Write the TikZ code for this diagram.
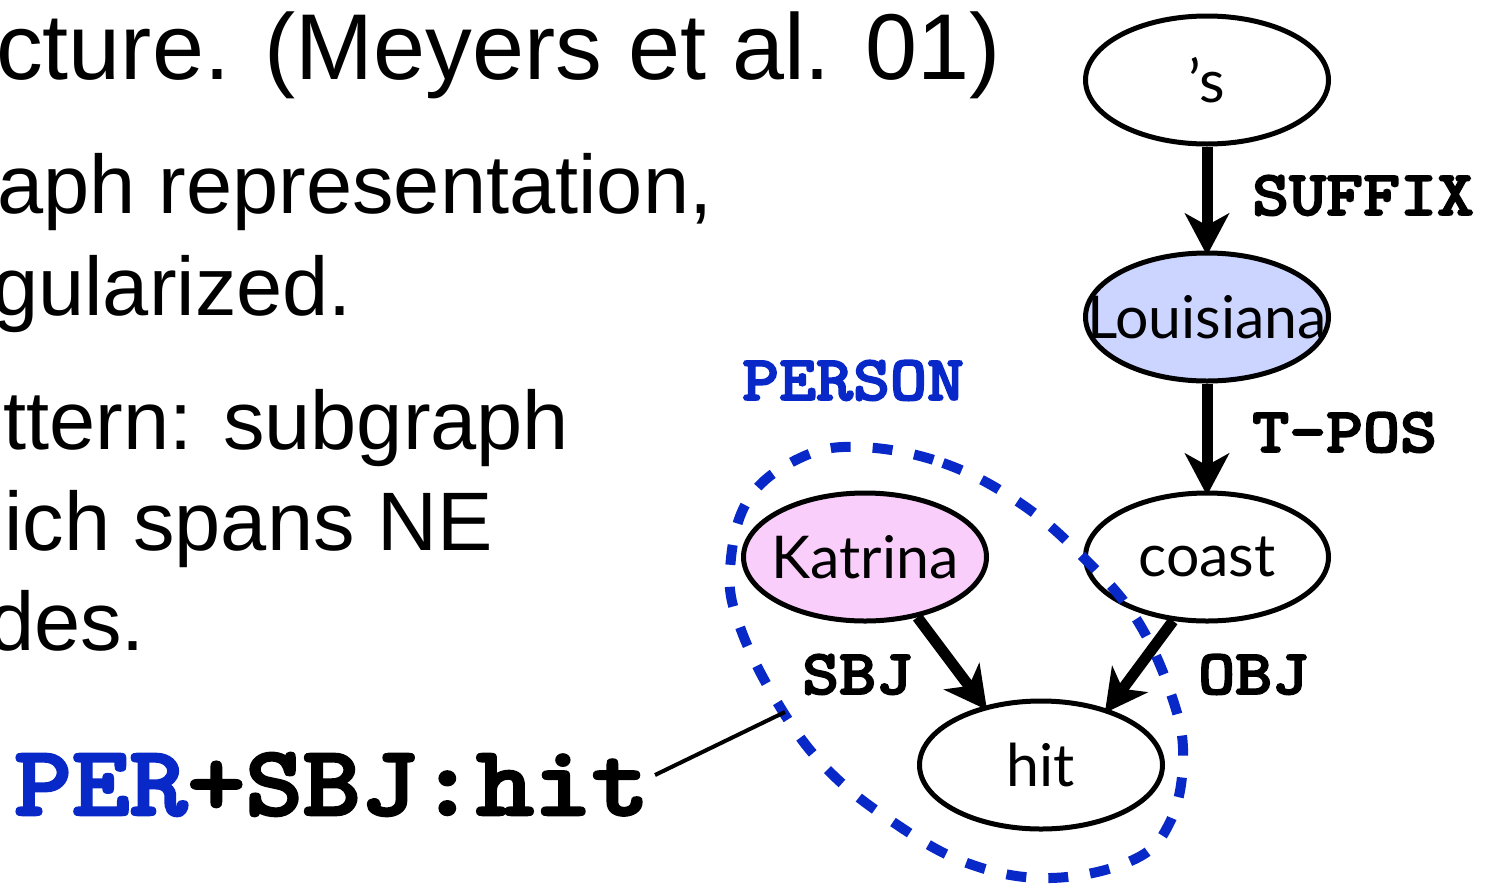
\documentclass[tikz,border=0pt]{standalone}
\usepackage{fontspec}
\setmainfont{Liberation Sans}
\newfontfamily\codefont{lmmonolt10-bold.otf}[FakeBold=2.5]
\newfontfamily\nodefont{Lato}
\usetikzlibrary{shapes.geometric,arrows.meta}
\definecolor{nblue}{RGB}{8,40,200}
\definecolor{loufill}{RGB}{204,213,255}
\definecolor{katfill}{RGB}{250,206,250}
\newcommand{\wide}[1]{\scalebox{1.1}[1]{#1}}
\begin{document}
\begin{tikzpicture}[x=1pt,y=-1pt,
  bodytext/.style={font=\fontsize{83}{90}\selectfont, anchor=base west, inner sep=0pt},
  gnode/.style={ellipse, draw, line width=5pt, minimum width=243pt, minimum height=128pt,
                inner sep=0pt, font=\nodefont\fontsize{59}{66}\selectfont},
  lbl/.style={font=\codefont\fontsize{64}{66}\selectfont, anchor=base west, inner sep=0pt},
  edge/.style={line width=11pt, -{Stealth[length=42pt,width=44pt,inset=12pt]}, shorten >=-5pt},
  blob/.style={nblue, line width=10pt, dash pattern=on 20pt off 22pt},
  conn/.style={line width=4pt}
]
\useasboundingbox (0,0) rectangle (1501,889);

% left text
\node[bodytext, font=\fontsize{93.5}{100}\selectfont] (t1) at (-4,79) {cture. (Meyers et al. 01)};
\node[bodytext] (t2) at (-3,213) {aph representation,};
\node[bodytext] (t3) at (-8,315) {gularized.};
\node[bodytext] (t4) at (3,449) {ttern: subgraph};
\node[bodytext] (t5) at (4,550) {ich spans NE};
\node[bodytext] (t6) at (-12,650) {des.};

% graph nodes
\node[gnode] (s) at (1207,80) {\makebox[0pt]{’s}};
\node[gnode, fill=loufill] (lou) at (1207,317) {\makebox[0pt]{Louisiana}};
\node[gnode] (coast) at (1207,557) {\makebox[0pt]{coast}};
\node[gnode, fill=katfill] (kat) at (865,557) {\makebox[0pt]{Katrina}};
\node[gnode] (hit) at (1041,765) {\makebox[0pt]{hit}};

% edges
\draw[edge] (s.south) -- (lou.north);
\draw[edge] (lou.south) -- (coast.north);
\draw[edge] (kat.-49) -- (hit.134);
\draw[edge] (coast.-118) -- (hit.40);

% edge labels
\node[lbl] (lsuffix) at (1252,215) {\wide{SUFFIX}};
\node[lbl] (ltpos) at (1252,452) {\wide{T-POS}};
\node[lbl] (lobj) at (1198,694) {\wide{OBJ}};
\node[lbl] (lsbj) at (802,694) {\wide{SBJ}};
\node[lbl, text=nblue] (lperson) at (742,400) {\wide{PERSON}};

% dashed region
\draw[blob] plot[smooth cycle, tension=0.65] coordinates {
  (860,447) (943,463) (1020,503) (1083,557) (1137,620) (1173,700) (1183,760)
  (1170,822) (1133,860) (1050,878) (967,863) (890,820) (825,767) (777,702)
  (740,627) (730,570) (748,500) (800,458)};

% pattern
\node[lbl, font=\codefont\fontsize{100}{100}\selectfont] (pat) at (14,815)
  {\wide{\textcolor{nblue}{PER}+SBJ:hit}};
\coordinate (bl) at (785,712);
\draw[conn] (655,775) -- (bl);
\end{tikzpicture}
\end{document}
